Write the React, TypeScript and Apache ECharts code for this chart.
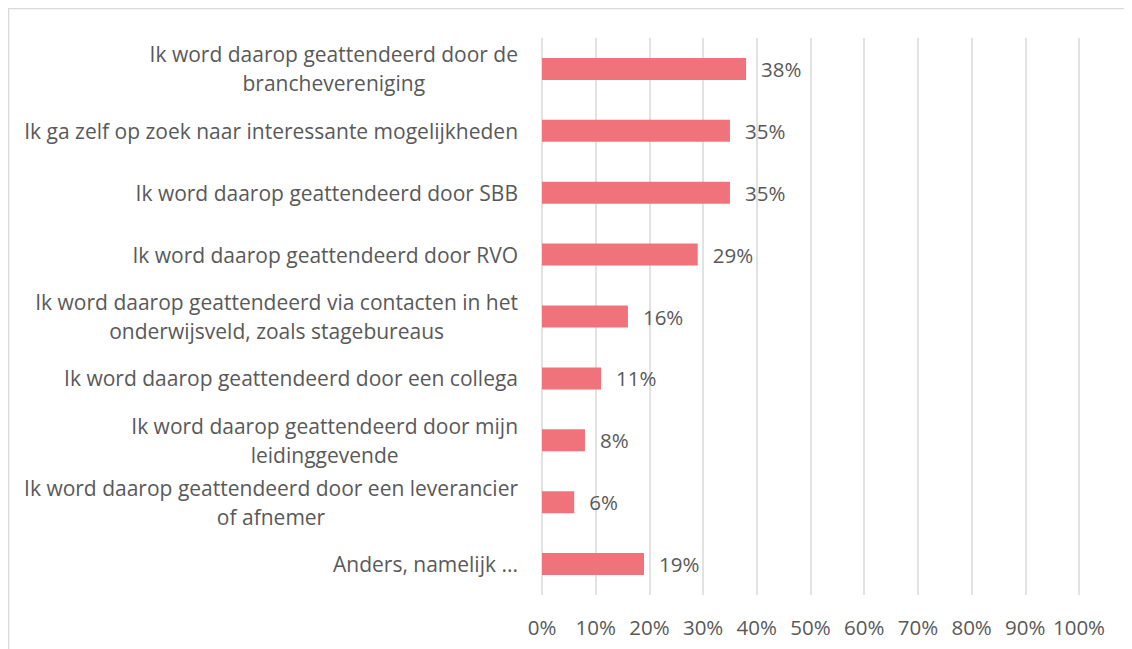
import React, { useEffect, useRef } from "react";
import * as echarts from "echarts";

const categories: string[] = [
  "Ik word daarop geattendeerd door de\nbranchevereniging",
  "Ik ga zelf op zoek naar interessante mogelijkheden",
  "Ik word daarop geattendeerd door SBB",
  "Ik word daarop geattendeerd door RVO",
  "Ik word daarop geattendeerd via contacten in het\nonderwijsveld, zoals stagebureaus",
  "Ik word daarop geattendeerd door een collega",
  "Ik word daarop geattendeerd door mijn\nleidinggevende",
  "Ik word daarop geattendeerd door een leverancier\nof afnemer",
  "Anders, namelijk ...",
];
const values: number[] = [38, 35, 35, 29, 16, 11, 8, 6, 19];
const tickMin = 0;
const tickMax = 100;
const tickStep = 10;

const FONT = "'Open Sans', 'Noto Sans', sans-serif";
const TEXT = "#595959";
const FS = 21;

export default function App() {
  const ref = useRef<HTMLDivElement>(null);
  useEffect(() => {
    if (!ref.current) return;
    const chart = echarts.init(ref.current, undefined, { renderer: "svg" });
    chart.setOption({
      animation: false,
      backgroundColor: "#ffffff",
      textStyle: { fontFamily: FONT },
      graphic: [
        {
          type: "rect",
          shape: { x: 0.5, y: 0.5, width: 1400, height: 900 },
          style: { fill: "none", stroke: "#D9D9D9", lineWidth: 1.5 },
          silent: true,
        },
      ],
      grid: { left: 534, right: 53, top: 30, bottom: 54, containLabel: false },
      xAxis: {
        type: "value",
        min: tickMin,
        max: tickMax,
        interval: tickStep,
        axisLine: { show: false },
        axisTick: { show: false },
        splitLine: { show: true, lineStyle: { color: "#D9D9D9", width: 1.5 } },
        axisLabel: {
          formatter: "{value}%",
          color: TEXT,
          fontFamily: FONT,
          fontSize: 20.5,
          margin: 21,
        },
      },
      yAxis: {
        type: "category",
        inverse: true,
        data: categories,
        axisLine: { show: false },
        axisTick: { show: false },
        axisLabel: {
          color: TEXT,
          fontFamily: FONT,
          fontSize: FS,
          margin: 24,
          align: "right",
          lineHeight: 29,
          formatter: (v: string) =>
            v
              .split("\n")
              .map((l) => `{c|${l}}`)
              .join("\n"),
          rich: {
            c: {
              align: "center",
              color: TEXT,
              fontFamily: FONT,
              fontSize: FS,
              lineHeight: 29,
            },
          },
        },
      },
      series: [
        {
          type: "bar",
          data: values,
          barWidth: 22,
          itemStyle: { color: "#F0727A" },
          label: {
            show: true,
            position: "right",
            distance: 15,
            formatter: "{c}%",
            color: TEXT,
            fontFamily: FONT,
            fontSize: 20.5,
          },
        },
      ],
    });
    return () => chart.dispose();
  }, []);
  return <div ref={ref} style={{ width: 1124, height: 641 }} />;
}
